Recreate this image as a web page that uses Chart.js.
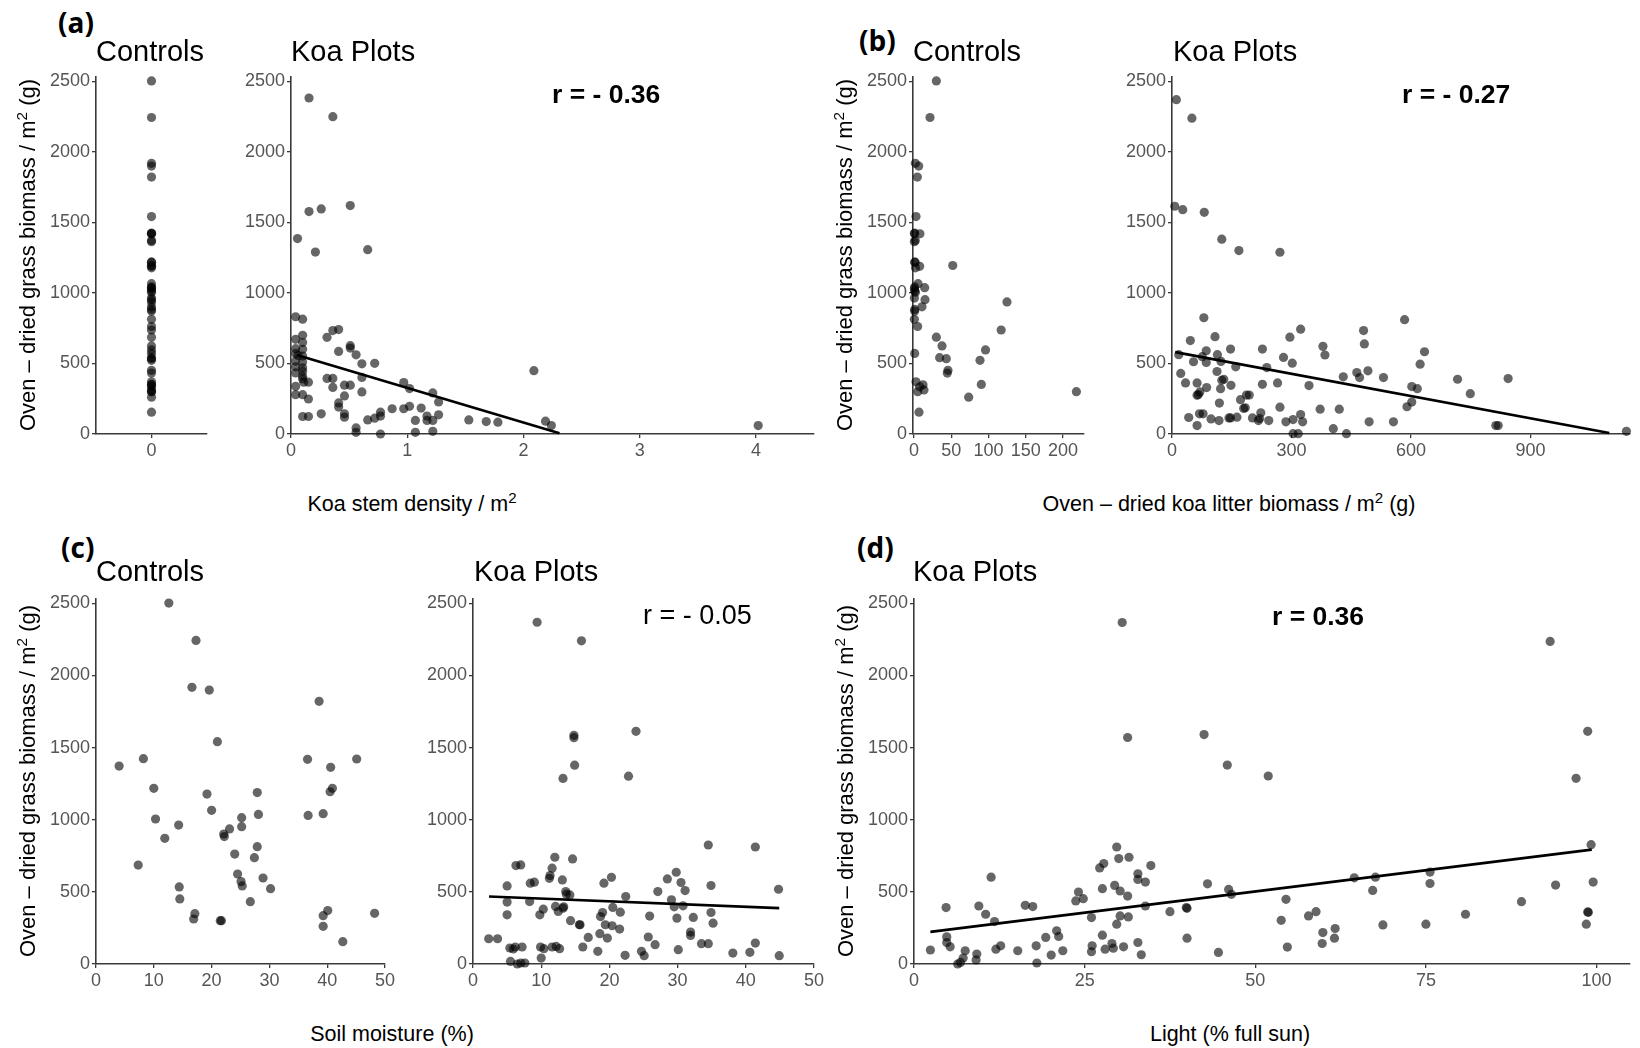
<!DOCTYPE html>
<html>
<head>
<meta charset="utf-8">
<script src="https://cdn.jsdelivr.net/npm/chart.js@4/dist/chart.umd.min.js"></script>
<style>
  html, body { margin:0; padding:0; background:#fff; }
  body { width:1640px; height:1048px; position:relative; overflow:hidden; font-family:"Liberation Sans", Arial, sans-serif; }
  canvas { position:absolute; }
  .t { position:absolute; white-space:nowrap; line-height:1; color:#000; }
  .lab { font-family:"Open Sans", "Noto Sans", sans-serif; font-weight:700; font-size:28px; }
  .ttl { font-size:29px; }
  .r { font-size:26.5px; font-weight:700; }
  .rn { font-size:27px; }
  .yt { font-size:22px; transform:translate(-50%,-50%) rotate(-90deg); }
  .xt { font-size:21.5px; transform:translate(-50%,-50%); }
  sup { font-size:0.7em; line-height:0; vertical-align:0.55em; }
</style>
</head>
<body>
<script>
// ---------------- DATA ----------------
const yTicks = [0, 500, 1000, 1500, 2000, 2500];

// Control plots (same plots shown in panels a, b, c)
const controlsBiomass  = [1372,1423,1218,1005,686,871,2502,963,534,451,1918,2243,312,349,1899,1178,1065,1541,300,300,901,883,936,762,624,1014,952,571,541,432,737,813,1188,1037,596,522,1419,1030,1821,1042,335,261,370,1363,1194,1218,1421,351,155];
const controlsMoisture = [4.0,8.2,10.0,10.3,7.3,11.9,12.6,14.3,14.4,14.5,16.6,17.3,16.9,17.1,19.6,19.2,20.0,21.0,21.5,21.7,22.1,22.2,23.1,24.0,24.5,25.2,25.2,25.1,25.3,26.7,27.4,27.9,27.9,28.1,28.9,30.2,36.6,36.7,38.6,39.3,39.3,39.3,40.1,40.6,40.5,40.9,45.1,48.2,42.7];
const controlsLitter   = [1.8,0.9,1.5,2.0,30,0.9,30,0.5,43.4,45.6,1.8,21.5,13.4,12.1,6.3,2.0,5.4,2.7,5.0,218,10.7,1.0,124.8,4.9,37.6,1.0,14.8,0.9,34.4,44.7,117,0.5,7.6,14.3,96,88.6,8.0,0.5,4.5,0.9,7.6,73.4,2.7,0.5,52,0.9,0.5,90.4,6.7];
const controlsStemDensity = controlsBiomass.map(() => 0);

// (a) Koa plots: stem density vs biomass
const koaStemDensity = [0.155,0.36,0.155,0.26,0.51,0.056,0.21,0.66,0.31,0.36,0.41,0.41,0.51,0.51,0.56,0.61,0.72,0.61,0.31,0.36,0.36,0.46,0.51,0.46,0.61,0.41,0.41,0.46,0.46,0.26,0.56,0.56,0.66,0.72,0.77,0.77,0.87,0.97,1.02,0.97,1.02,1.07,1.07,1.12,1.17,1.17,1.22,1.22,1.22,1.27,1.27,1.53,1.68,1.78,2.09,2.19,2.24,4.02,0.77,
  0.04,0.1,0.1,0.04,0.1,0.04,0.1,0.04,0.06,0.1,0.04,0.1,0.04,0.1,0.04,0.1,0.1,0.1,0.11,0.15,0.04,0.04,0.1,0.15,0.1,0.15];
const koaStemBiomass = [2381,2249,1576,1595,1619,1385,1289,1306,685,733,740,585,626,609,561,497,501,401,394,394,330,346,346,270,298,220,191,143,119,143,43,12,100,112,127,155,179,179,196,365,322,96,12,184,127,96,96,19,291,227,136,100,88,84,449,91,60,60,0,
  831,814,700,671,648,605,600,571,557,552,517,510,476,469,433,445,410,390,367,367,338,279,279,248,124,124];
const fitStemX = [0.05, 2.31];
const fitStemY = [560, 5];

// (b) Koa plots: litter vs biomass
const koaLitter = [11,50,7,27,81,125,168,271,80,584,481,323,108,296,46,483,379,227,147,86,634,114,384,17,76,280,54,86,123,302,623,160,238,113,22,464,492,531,471,430,717,844,125,130,34,63,265,227,148,344,87,122,602,616,70,63,66,749,194,187,172,119,602,590,271,180,184,372,420,223,323,42,69,78,98,118,143,147,163,202,220,217,243,286,304,328,495,556,63,405,304,317,438,813,819,1141];
const koaLitterBiomass = [2369,2238,1614,1590,1571,1381,1300,1288,824,810,733,743,690,686,662,638,621,602,602,590,583,562,560,562,548,543,512,507,514,502,495,476,471,443,429,436,448,400,400,405,388,393,381,388,362,362,362,352,345,343,329,321,336,321,298,274,280,286,276,276,243,219,226,193,190,181,186,176,176,150,138,117,143,143,107,95,114,114,119,114,110,95,95,86,102,86,86,86,60,38,2,2,2,60,60,19];
const fitLitterX = [8, 1098];
const fitLitterY = [580, 7];

// (c) Koa plots: soil moisture vs biomass
const koaMoisture = [9.4,15.9,14.8,14.8,23.9,14.9,13.2,22.8,34.5,41.4,12.0,14.6,7.0,6.3,11.6,29.8,11.3,20.3,11.2,28.5,13.1,30.5,19.2,8.4,9.0,5.0,34.9,44.8,13.6,27.1,31.1,13.7,14.2,22.4,29.1,5.0,8.3,12.1,30.8,29.5,13.2,10.3,20.5,13.3,12.5,34.9,21.6,19.0,5.0,9.8,18.7,25.9,29.9,32.3,14.3,15.6,15.7,19.4,20.4,35.2,21.5,18.6,31.9,31.9,19.7,16.9,25.7,2.3,3.6,33.5,34.5,41.4,26.7,16.1,11.6,12.2,12.7,9.9,10.4,5.4,6.2,7.2,5.9,18.3,24.7,30.1,38.1,40.6,22.3,25.1,44.9,10.0,5.5,7.0,7.6,6.5];
const koaMoistureBiomass = [2369,2240,1585,1569,1613,1378,1286,1302,825,811,740,728,687,682,664,636,613,601,594,590,583,565,560,560,567,541,544,518,502,502,509,484,479,468,445,429,433,399,403,396,387,380,392,396,364,357,359,357,341,341,329,332,318,323,300,272,272,272,265,283,242,210,221,198,180,184,187,175,175,141,141,145,134,118,118,122,106,118,106,111,118,118,104,88,88,99,76,81,60,58,58,41,18,7,7,0];
const fitMoistX = [2.35, 44.9];
const fitMoistY = [468, 387];

// (d) Koa plots: light vs biomass
const koaLight = [30.5,93.2,98.7,42.5,31.3,45.9,51.9,97.0,29.7,99.2,30.0,31.5,34.7,27.8,27.2,11.3,32.8,32.8,33.9,43.0,99.5,94.0,75.6,75.6,67.6,64.5,29.4,27.6,30.2,46.1,67.2,46.5,24.1,24.8,23.7,31.3,54.5,89.0,4.7,9.5,16.3,17.4,33.9,39.9,40.0,37.5,58.9,57.8,10.5,11.8,80.8,98.7,98.8,30.2,31.4,26.0,53.8,29.7,68.7,75.0,98.5,61.7,20.9,59.9,21.2,4.8,27.6,19.3,40.0,61.6,59.8,4.8,12.0,12.7,17.9,26.1,29.0,30.7,32.8,54.7,5.3,15.2,2.4,26.0,7.5,21.8,28.0,29.2,9.2,20.1,33.3,44.6,9.1,7.2,6.8,18.0,6.4];
const koaLightBiomass = [2367,2236,1613,1590,1570,1379,1303,1287,811,827,731,740,682,696,666,602,625,586,568,556,568,547,637,558,602,597,545,522,506,517,510,483,499,453,437,471,448,432,391,402,407,398,402,391,386,363,363,333,345,294,345,361,358,333,326,322,303,276,271,276,276,246,230,218,191,188,200,184,179,179,142,149,103,126,126,126,142,119,149,117,119,92,97,85,92,92,103,110,69,62,64,80,28,41,11,7,0];
const fitLightX = [2.4, 99.3];
const fitLightY = [223, 793];

// ---------------- DRAWING ----------------
const FF = '"Liberation Sans", Arial, sans-serif';
const AX = '#3a3a3a';
const PT_COLOR = 'rgba(0,0,0,0.6)';
const LY = 62, LX = 36, PADT = 14, PADR = 24;

const pts = (xs, ys) => xs.map((x, i) => ({ x: x, y: ys[i] }));

function panel(box, xMin, xMax, xTicks, xs, ys, fitX, fitY) {
  const c = document.createElement('canvas');
  const w = Math.round(box.r - box.l) + LY + PADR;
  const h = Math.round(box.b - box.t) + PADT + LX;
  c.width = w; c.height = h;
  c.style.width = w + 'px'; c.style.height = h + 'px';
  c.style.left = (Math.round(box.l) - LY) + 'px';
  c.style.top = (Math.round(box.t) - PADT) + 'px';
  document.body.appendChild(c);
  const datasets = [];
  if (fitX) {
    datasets.push({ data: pts(fitX, fitY), showLine: true, borderColor: '#000', borderWidth: 2.7,
      pointRadius: 0, fill: false, clip: false });
  }
  datasets.push({ data: pts(xs, ys), pointRadius: 4.6, pointBackgroundColor: PT_COLOR,
    pointBorderWidth: 0, borderWidth: 0, clip: false });
  const tickCommon = { font: { family: FF, size: 18 }, color: '#555', padding: 2, autoSkip: false, maxRotation: 0,
    callback: v => String(v) };
  new Chart(c, {
    type: 'scatter',
    data: { datasets },
    options: {
      responsive: false, animation: false, events: [],
      layout: { padding: { top: PADT, right: PADR, left: 0, bottom: 0 } },
      plugins: { legend: { display: false }, tooltip: { enabled: false } },
      scales: {
        x: {
          type: 'linear', min: xMin, max: xMax,
          afterBuildTicks: s => { s.ticks = xTicks.map(v => ({ value: v })); },
          afterFit: s => { s.height = LX; },
          border: { display: true, color: AX, width: 1.6 },
          grid: { drawOnChartArea: false, drawTicks: true, tickLength: 4, color: AX, lineWidth: 1.3 },
          ticks: tickCommon
        },
        y: {
          type: 'linear', min: 0, max: 2530,
          afterBuildTicks: s => { s.ticks = yTicks.map(v => ({ value: v })); },
          afterFit: s => { s.width = LY; },
          border: { display: true, color: AX, width: 1.6 },
          grid: { drawOnChartArea: false, drawTicks: true, tickLength: 4, color: AX, lineWidth: 1.3 },
          ticks: tickCommon
        }
      }
    }
  });
}

const TOP1 = { t: 76.8, b: 433.3 };
const TOP2 = { t: 598.7, b: 964 };

panel({ l: 95.7, r: 207, t: TOP1.t, b: TOP1.b }, -1, 1, [0], controlsStemDensity, controlsBiomass);
panel({ l: 290.5, r: 813.5, t: TOP1.t, b: TOP1.b }, 0, 4.5, [0,1,2,3,4], koaStemDensity, koaStemBiomass, fitStemX, fitStemY);
panel({ l: 913.3, r: 1084.3, t: TOP1.t, b: TOP1.b }, -1.34, 228.2, [0,50,100,150,200], controlsLitter, controlsBiomass);
panel({ l: 1172, r: 1630, t: TOP1.t, b: TOP1.b }, 0, 1150, [0,300,600,900], koaLitter, koaLitterBiomass, fitLitterX, fitLitterY);
panel({ l: 95.7, r: 385, t: TOP2.t, b: TOP2.b }, 0, 50, [0,10,20,30,40,50], controlsMoisture, controlsBiomass);
panel({ l: 472.7, r: 813.5, t: TOP2.t, b: TOP2.b }, 0, 50, [0,10,20,30,40,50], koaMoisture, koaMoistureBiomass, fitMoistX, fitMoistY);
panel({ l: 914, r: 1629.5, t: TOP2.t, b: TOP2.b }, 0, 104.9, [0,25,50,75,100], koaLight, koaLightBiomass, fitLightX, fitLightY);

// ---------------- TEXT ----------------
function txt(cls, html, left, top) {
  const d = document.createElement('div');
  d.className = 't ' + cls;
  d.innerHTML = html;
  d.style.left = left + 'px';
  d.style.top = top + 'px';
  document.body.appendChild(d);
}
txt('lab', '(a)', 58, 8);
txt('lab', '(b)', 859, 26);
txt('lab', '(c)', 61, 533);
txt('lab', '(d)', 857, 533);

txt('ttl', 'Controls', 96, 37);
txt('ttl', 'Koa Plots', 291, 37);
txt('ttl', 'Controls', 913, 37);
txt('ttl', 'Koa Plots', 1173, 37);
txt('ttl', 'Controls', 96, 557);
txt('ttl', 'Koa Plots', 474, 557);
txt('ttl', 'Koa Plots', 913, 557);

txt('r', 'r = - 0.36', 552, 81);
txt('r', 'r = - 0.27', 1402, 81);
txt('rn', 'r = - 0.05', 643, 602);
txt('r', 'r = 0.36', 1272, 603);

const YT = 'Oven – dried grass biomass / m<sup>2</sup> (g)';
txt('yt', YT, 28, 255);
txt('yt', YT, 845, 255);
txt('yt', YT, 28, 781);
txt('yt', YT, 846, 781);

txt('xt', 'Koa stem density / m<sup>2</sup>', 412, 505);
txt('xt', 'Oven – dried koa litter biomass / m<sup>2</sup> (g)', 1229, 505);
txt('xt', 'Soil moisture (%)', 392, 1035);
txt('xt', 'Light (% full sun)', 1230, 1035);
</script>
</body>
</html>
